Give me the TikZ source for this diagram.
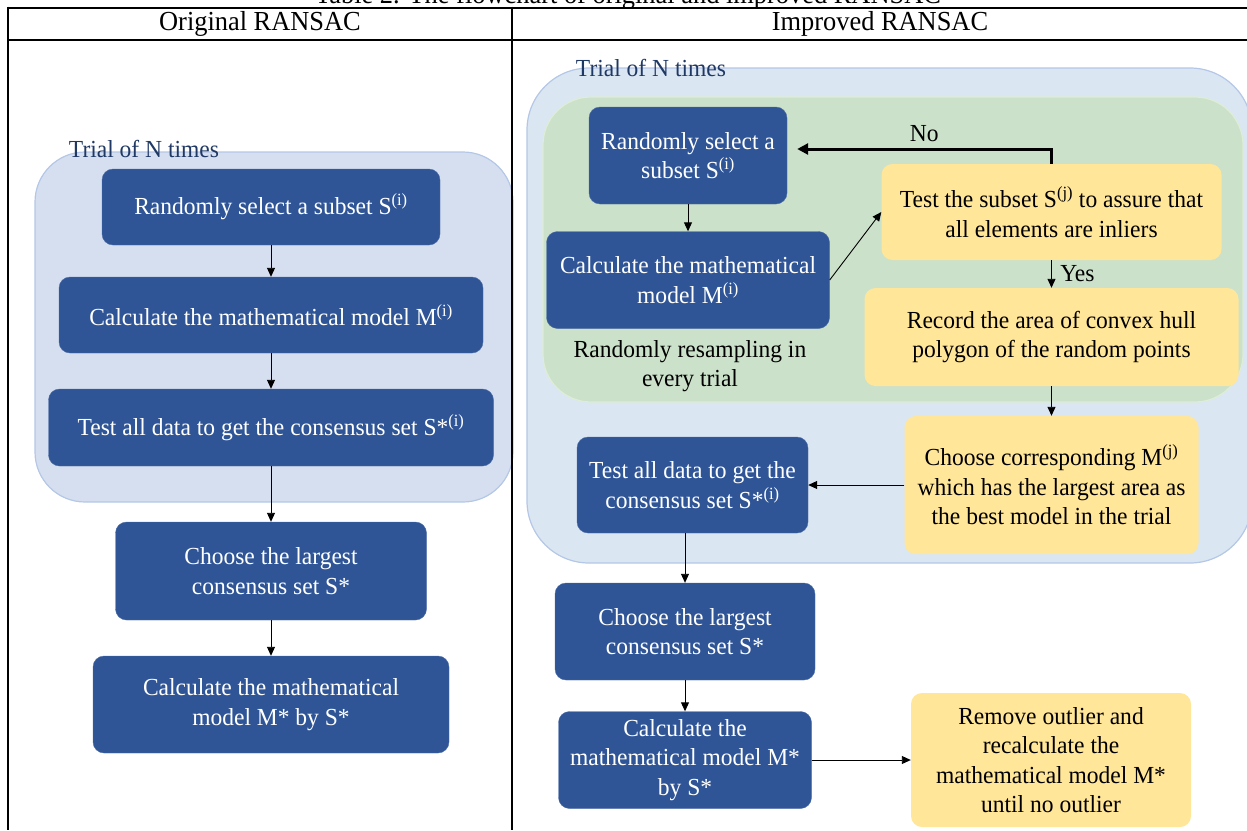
\documentclass[tikz,border=0pt]{standalone}
\usepackage{fontspec}
\setmainfont{Liberation Serif}[FakeStretch=0.96]
\usetikzlibrary{positioning,arrows.meta}

\definecolor{boxblue}{HTML}{2F5597}
\definecolor{boxyellow}{HTML}{FFE699}
\definecolor{trialblue}{HTML}{D6DFF0}
\definecolor{trialblueR}{HTML}{DBE6F3}
\definecolor{trialedge}{HTML}{B4C7E7}
\definecolor{loopgreen}{HTML}{CCE1CA}
\definecolor{loopedge}{HTML}{DDEDD6}
\definecolor{trialtext}{HTML}{1F3864}

\begin{document}
\begin{tikzpicture}[
        x=1pt, y=-1pt,
        txt/.style={font=\fontsize{24.5}{29.5}\selectfont, align=center},
        box/.style={txt, rectangle, rounded corners=11pt, inner sep=2pt},
        bluebox/.style={box, fill=boxblue, draw=boxblue!85!white, text=white},
        yellowbox/.style={box, fill=boxyellow, text=black},
        trial/.style={rectangle, rounded corners=50pt, fill=trialblue, draw=trialedge, line width=1.2pt},
        loop/.style={rectangle, rounded corners=48pt, fill=loopgreen, draw=loopedge, line width=1.2pt},
        triallbl/.style={txt, text=trialtext, inner sep=0pt},
        hdr/.style={font=\fontsize{27.5}{33}\selectfont},
        arr/.style={-{Triangle[length=9pt, width=8pt]}, line width=0.9pt},
        noarr/.style={-{Triangle[length=11pt, width=11pt]}, line width=3pt},
        rule/.style={line width=2pt},
    ]
    \useasboundingbox (0,0) rectangle (1247,830);

    % === Original RANSAC ===
    \node[trial, minimum width=478pt, minimum height=350pt] (ltrial) at (274,327) {};
    \node[triallbl] (ltriallbl) at (144,149) {Trial of N times};

    \node[bluebox, minimum width=338pt, minimum height=76pt] (lsel) at (271,207) {Randomly select a subset S\textsuperscript{(i)}};
    \node[bluebox, minimum width=424pt, minimum height=76pt] (lcalc) at (271,315) {Calculate the mathematical model M\textsuperscript{(i)}};
    \node[bluebox, minimum width=445pt, minimum height=77pt] (ltest) at (271,427.5) {Test all data to get the consensus set S*\textsuperscript{(i)}};
    \node[bluebox, minimum width=311pt, minimum height=98pt] (lchoose) at (271,571) {Choose the largest\\consensus set S*};
    \node[bluebox, minimum width=356pt, minimum height=97pt] (lmodel) at (271,704.5) {Calculate the mathematical\\model M* by S*};

    \draw[arr] (lsel) -- (lcalc);
    \draw[arr] (lcalc) -- (ltest);
    \draw[arr] (ltest) -- (lchoose);
    \draw[arr] (lchoose) -- (lmodel);

    % === Improved RANSAC ===
    \node[trial, fill=trialblueR, rounded corners=62pt, minimum width=725pt, minimum height=495pt] (rtrial) at (889.5,315.5) {};
    \node[triallbl] (rtriallbl) at (651,68) {Trial of N times};
    \node[loop, minimum width=700pt, minimum height=305pt] (rloop) at (893,249.5) {};

    \node[bluebox, minimum width=198pt, minimum height=97pt] (rsel) at (688,155.5) {Randomly select a\\subset S\textsuperscript{(i)}};
    \node[bluebox, minimum width=283pt, minimum height=97pt] (rcalc) at (688,280) {Calculate the mathematical\\model M\textsuperscript{(i)}};
    \node[txt] (resample) at (690,366) {Randomly resampling in\\every trial};

    \node[yellowbox, minimum width=340pt, minimum height=96pt] (ytest) at (1051.5,212) {Test the subset S\textsuperscript{(j)} to assure that\\all elements are inliers};
    \node[yellowbox, minimum width=374pt, minimum height=98pt] (yrecord) at (1051.5,337) {Record the area of convex hull\\polygon of the random points};
    \node[yellowbox, minimum width=294pt, minimum height=138pt] (ychoose) at (1051.5,485) {Choose corresponding M\textsuperscript{(j)}\\which has the largest area as\\the best model in the trial};

    \node[bluebox, minimum width=231pt, minimum height=96pt] (rtest) at (692.5,485) {Test all data to get the\\consensus set S*\textsuperscript{(i)}};
    \node[bluebox, minimum width=260pt, minimum height=97pt] (rchoose) at (685,631.5) {Choose the largest\\consensus set S*};
    \node[bluebox, minimum width=253pt, minimum height=97pt] (rmodel) at (685,760) {Calculate the\\mathematical model M*\\by S*};
    \node[yellowbox, minimum width=280pt, minimum height=134pt] (yremove) at (1051,760) {Remove outlier and\\recalculate the\\mathematical model M*\\until no outlier};

    \draw[arr] (rsel) -- (rcalc);
    \draw[arr] (rcalc.east) -- (ytest.west);
    \draw[noarr] (ytest.north) |- ([xshift=10pt, yshift=6.5pt]rsel.east) node[txt, pos=0.75, above=2pt] (nolbl) {No};
    \draw[arr] (ytest) -- node[txt, right=5pt] (yeslbl) {Yes} (yrecord);
    \draw[arr] (yrecord) -- (ychoose);
    \draw[arr] (ychoose) -- (rtest);
    \draw[arr] (rtest.south -| rchoose.north) -- (rchoose.north);
    \draw[arr] (rchoose) -- (rmodel);
    \draw[arr] (rmodel) -- (yremove);

    % === Table frame ===
    \begin{scope}
        \clip (0,0) rectangle (1247,6);
        \node[hdr, anchor=base] (title) at (628,3) {Table 2. The flowchart of original and improved RANSAC};
    \end{scope}
    \node[hdr] (hdrorig) at (260,24) {Original RANSAC};
    \node[hdr] (hdrimpr) at (880,24) {Improved RANSAC};
    \draw[rule] (7.5,7.5) -- (1247,7.5);
    \draw[rule] (7.5,40) -- (1247,40);
    \draw[rule] (7.5,6.5) -- (7.5,830);
    \draw[rule] (512,6.5) -- (512,830);
\end{tikzpicture}
\end{document}
